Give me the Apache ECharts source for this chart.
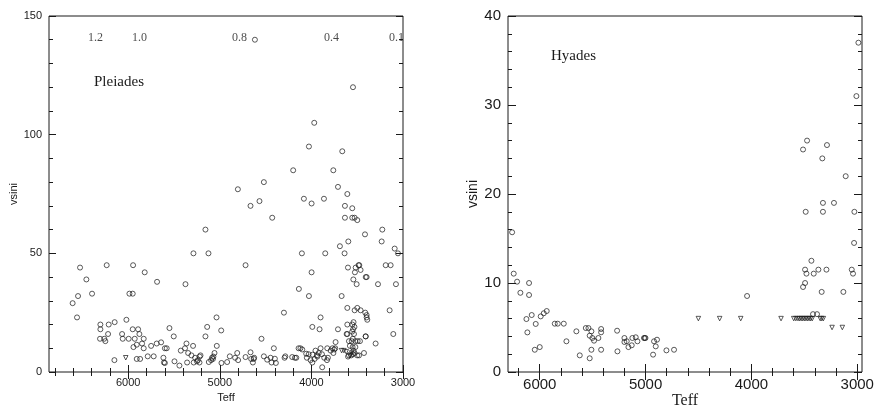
<!DOCTYPE html>
<html>
<head>
<meta charset="utf-8">
<script src="https://cdn.jsdelivr.net/npm/echarts@6/dist/echarts.min.js"></script>
<style>
html,body{margin:0;padding:0;background:#fff;}
#chart{width:874px;height:406px;}
</style>
</head>
<body>
<div id="chart"></div>
<script>
// ---------------- DATA ----------------
// Pleiades: [Teff, vsini] measured values (open circles)
const pleiadesCircles = [
  [4617,140],[3546,120],[3969,105],[4027,95],[3663,93],[4199,85],[3761,85],[4519,80],[3710,78],[4803,77],
  [3608,75],[4567,72],[4082,73],[3863,73],[3998,71],[4665,70],[3634,70],[3554,69],[4428,65],[3634,65],
  [3554,65],[3528,65],[3499,64],[5157,60],[3226,60],[3415,58],[3233,55],[3597,55],[3689,53],[3091,52],
  [5288,50],[5124,50],[4104,50],[3849,50],[3638,50],[3055,50],
  [6526,44],[6235,45],[5947,45],[4719,45],[3601,44],[3477,45],[3189,45],[3135,45],[3485,45],[3517,44],
  [3463,43],[3525,42],[3542,39],[3506,37],[3407,40],[3397,40],[6457,39],[5820,42],[3998,42],[5685,38],
  [5375,37],[3273,37],[3077,37],[6395,33],[5987,33],[5951,33],[6548,32],[4137,35],[4027,32],[3670,32],
  [6607,29],[6559,23],[3608,27],[3499,27],[3463,26],[3528,26],[3412,25],[3397,24],[3397,23],[3390,22],
  [3146,26],[4300,25],[3900,23],[3106,16],[3299,12],[3408,15],[3426,8],
  [6304,20],[6304,18],[6213,20],[6148,21],[6020,22],[6220,16],[6308,14],[6250,13],[6262,14],[6067,16],
  [6060,14],[5995,14],[5951,18],[5892,18],[5878,16],[5929,14],[5831,14],[5907,11.5],[5943,10.5],[5849,12],
  [5831,10],[5750,11],[5689,12],[5641,12.5],[5600,10],[5580,10],[5550,18.5],[5503,15],[5426,9],[5364,12],
  [5292,11],[5380,10],[5346,8],[5310,7],[5270,6],[5240,5],[5211,7],[5250,4.5],[5220,6.5],
  [5157,15],[5138,19],[5036,23],[4985,17.5],[5033,11],[5058,8],[5070,6.5],[5085,6],[5095,5],[5075,5.5],[5120,4.2],
  [6151,5],[5907,5.5],[5870,5.5],[5787,6.6],[5722,6.6],[5616,6],[5610,4],[5600,3.8],[5495,4.5],[5441,2.7],
  [5357,4],[5222,4],[5285,4],[4982,3.8],[4920,4.2],[4891,6.6],[4833,6],[4810,8],[4800,5],[4719,6.3],
  [4665,8.3],[4658,5.5],[4630,5.5],[4625,6],[4639,4],[4545,14],[4519,6.6],[4483,5.2],[4446,6],[4435,4],
  [4410,10],[4399,5.6],[4388,3.8],[4293,6],[4285,6.6],[4210,6.3],[4180,6],[4165,6],[4140,10],[4120,10],
  [4100,9.5],[4057,7.7],[4009,5],[3987,7.3],[3965,5.5],[3990,19],[3911,18],[3940,7],[3920,8],[3900,10],
  [3885,7.5],[3882,2],[3860,6],[3830,5],[3820,6],[3827,10],[3790,9],[3770,10],[3760,8],[3750,9.5],
  [3740,10],[3736,12.6],[3710,18],[3608,16],[3615,16],
  [3608,20],[3553,20],[3540,21],[3530,19],[3545,18],[3555,17],[3535,16],[3548,14],[3590,13],[3560,13],
  [3520,13],[3495,13],[3470,13],[3580,11],[3550,10.5],[3520,10.5],[3540,9],[3530,8],[3545,7.5],[3590,7],
  [3565,7],[3500,7],[3480,7],[3600,6.5],[3407,15],
  [4050,6],[3990,4],[4030,7.5],[3955,9],[3935,6.5]
];
// Pleiades upper limits (open down-triangles)
const pleiadesLimits = [[6027,6],[3670,9],[3645,9],[3580,7],[3620,8.5],[3560,8]];
// Mass scale along the top of the Pleiades panel
const massLabels = ['1.2','1.0','0.8','0.4','0.1'];
const massTeff = [6358,5878,4785,3780,3070];
const massRowVsini = 141;

// Hyades: [Teff, vsini] measured values (open circles)
const hyadesCircles = [
  [6261,15.7],[6246,11.05],[6214,10.15],[6183,8.9],[6101,10.0],[6101,8.65],[6126,5.95],[6117,4.45],[6076,6.4],
  [6038,5.4],[6047,2.5],[6000,2.8],[5991,6.25],[5962,6.6],[5934,6.85],[5858,5.43],[5830,5.43],[5773,5.43],
  [5748,3.45],[5654,4.57],[5622,1.87],[5565,4.94],[5540,4.94],[5528,4.08],[5512,4.57],[5503,3.82],[5487,3.52],
  [5528,1.54],[5512,2.5],[5446,3.82],[5420,4.83],[5420,4.46],[5420,2.5],[5269,4.64],[5266,2.32],[5200,3.82],
  [5200,3.37],[5178,3.45],[5162,2.8],[5131,3.0],[5125,3.82],[5093,3.9],[5077,3.45],[5015,3.82],[5008,3.82],
  [5001,3.82],[4929,1.95],[4920,3.45],[4904,2.88],[4892,3.63],[4803,2.43],[4731,2.5],[4041,8.54],
  [3418,6.5],[3380,6.5],
  [3512,25],[3474,26],[3286,25.5],[3330,24],[3109,22],[3487,18],[3324,19],[3324,18],[3220,19],[3027,18],
  [3008,31],[2989,37],[3030,14.5],[3052,11.5],[3040,11.05],[3493,11.5],[3480,11.05],[3433,12.5],[3411,11.05],
  [3367,11.5],[3291,11.5],[3512,9.55],[3493,10.0],[3336,9.0],[3131,9.0]
];
// Hyades upper limits (open down-triangles)
const hyadesLimits = [
  [4501,6],[4300,6],[4101,6],[3720,6],
  [3600,6],[3580,6],[3560,6],[3545,6],[3530,6],[3515,6],[3500,6],[3485,6],[3470,6],[3455,6],[3440,6],[3425,6],
  [3350,6],[3335,6],[3320,6],
  [3238,5],[3141,5]
];

// Tick values
const leftXMajor = [3000,4000,5000,6000];
const leftXMinor = [3200,3400,3600,3800,4200,4400,4600,4800,5200,5400,5600,5800,6200,6400,6600,6800];
const leftYMajor = [0,50,100,150];
const leftYMinor = [10,20,30,40,60,70,80,90,110,120,130,140];
const rightXMajor = [3000,4000,5000,6000];
const rightXMinor = [3200,3400,3600,3800,4200,4400,4600,4800,5200,5400,5600,5800,6200];
const rightYMajor = [0,10,20,30,40];
const rightYMinor = [2,4,6,8,12,14,16,18,22,24,26,28,32,34,36,38];

// ---------------- CHART ----------------
const INK = '#1a1a1a';
const SANS = '"Liberation Sans", Arial, sans-serif';
const SERIF = '"Liberation Serif", "Times New Roman", serif';

const L = {min: 3000, max: 6865, ymax: 150};
const R = {min: 2955, max: 6300, ymax: 40};

function xAxis(grid, ext, position, ticks, len, labels, fontSize, name, nameFont, nameSize, nameGap, noMove) {
  return {
    type: 'value', gridIndex: grid, position: position, inverse: true,
    min: ext.min, max: ext.max,
    axisLine: {show: false},
    splitLine: {show: false},
    axisTick: {show: true, inside: true, length: len, customValues: ticks, lineStyle: {color: INK, width: 1}},
    axisLabel: labels ? {show: true, customValues: labels, formatter: v => String(v), color: INK, fontSize: fontSize, fontFamily: SANS, margin: 5} : {show: false},
    name: name || '', nameLocation: 'middle', nameGap: nameGap || 0,
    nameMoveOverlap: !noMove,
    nameTextStyle: {color: INK, fontFamily: nameFont, fontSize: nameSize}
  };
}
function yAxis(grid, ymax, position, ticks, len, labels, fontSize, name, nameFont, nameSize, nameGap) {
  return {
    type: 'value', gridIndex: grid, position: position,
    min: 0, max: ymax,
    axisLine: {show: false},
    splitLine: {show: false},
    axisTick: {show: true, inside: true, length: len, customValues: ticks, lineStyle: {color: INK, width: 1}},
    axisLabel: labels ? {show: true, customValues: labels, formatter: v => String(v), color: INK, fontSize: fontSize, fontFamily: SANS, margin: 7} : {show: false},
    name: name || '', nameLocation: 'middle', nameGap: nameGap || 0, nameRotate: 90,
    nameTextStyle: {color: INK, fontFamily: nameFont, fontSize: nameSize}
  };
}

const gridL = {left: 49, top: 16, width: 354, height: 356, containLabel: false, outerBoundsMode: 'none'};
const gridR = {left: 508, top: 16, width: 354, height: 356, containLabel: false, outerBoundsMode: 'none'};

const option = {
  animation: false,
  backgroundColor: '#fff',
  grid: [
    Object.assign({show: true, borderColor: INK, borderWidth: 1, backgroundColor: 'transparent'}, gridL),
    Object.assign({show: false}, gridL),
    Object.assign({show: true, borderColor: INK, borderWidth: 1, backgroundColor: 'transparent'}, gridR),
    Object.assign({show: false}, gridR)
  ],
  xAxis: [
    xAxis(0, L, 'bottom', leftXMajor, 7, leftXMajor, 11, 'Teff', SANS, 11, 17),
    xAxis(0, L, 'top', leftXMajor, 7, null),
    xAxis(1, L, 'bottom', leftXMinor, 4, null),
    xAxis(1, L, 'top', leftXMinor, 4, null),
    xAxis(2, R, 'bottom', rightXMajor, 8, rightXMajor, 15, 'Teff', SERIF, 16, 21, true),
    xAxis(2, R, 'top', rightXMajor, 8, null),
    xAxis(3, R, 'bottom', rightXMinor, 4, null),
    xAxis(3, R, 'top', rightXMinor, 4, null)
  ],
  yAxis: [
    yAxis(0, L.ymax, 'left', leftYMajor, 7, leftYMajor, 11, 'vsini', SANS, 11, 30),
    yAxis(0, L.ymax, 'right', leftYMajor, 7, null),
    yAxis(1, L.ymax, 'left', leftYMinor, 4, null),
    yAxis(1, L.ymax, 'right', leftYMinor, 4, null),
    yAxis(2, R.ymax, 'left', rightYMajor, 8, rightYMajor, 15, 'vsini', SANS, 14, 28),
    yAxis(2, R.ymax, 'right', rightYMajor, 8, null),
    yAxis(3, R.ymax, 'left', rightYMinor, 4, null),
    yAxis(3, R.ymax, 'right', rightYMinor, 4, null)
  ],
  series: [
    {
      type: 'scatter', xAxisIndex: 0, yAxisIndex: 0, data: pleiadesCircles,
      symbol: 'circle', symbolSize: 5, silent: true,
      itemStyle: {color: 'rgba(0,0,0,0)', borderColor: INK, borderWidth: 0.9}
    },
    {
      type: 'scatter', xAxisIndex: 0, yAxisIndex: 0, data: pleiadesLimits,
      symbol: 'triangle', symbolRotate: 180, symbolSize: 4.5, silent: true,
      itemStyle: {color: 'rgba(0,0,0,0)', borderColor: INK, borderWidth: 0.9}
    },
    {
      type: 'scatter', xAxisIndex: 0, yAxisIndex: 0, silent: true,
      data: massTeff.map((t, i) => [t, massRowVsini, massLabels[i]]),
      symbolSize: 0,
      label: {show: true, position: 'inside', formatter: p => p.value[2], color: INK, fontFamily: SERIF, fontSize: 12}
    },
    {
      type: 'scatter', xAxisIndex: 4, yAxisIndex: 4, data: hyadesCircles,
      symbol: 'circle', symbolSize: 5, silent: true,
      itemStyle: {color: 'rgba(0,0,0,0)', borderColor: INK, borderWidth: 0.9}
    },
    {
      type: 'scatter', xAxisIndex: 4, yAxisIndex: 4, data: hyadesLimits,
      symbol: 'triangle', symbolRotate: 180, symbolSize: 4.5, silent: true,
      itemStyle: {color: 'rgba(0,0,0,0)', borderColor: INK, borderWidth: 0.9}
    }
  ],
  graphic: [
    {type: 'text', left: 94, top: 75, style: {text: 'Pleiades', fill: INK, font: '15px ' + SERIF}},
    {type: 'text', left: 551, top: 49, style: {text: 'Hyades', fill: INK, font: '15px ' + SERIF}}
  ]
};

const chart = echarts.init(document.getElementById('chart'), null, {renderer: 'canvas'});
chart.setOption(option);
</script>
</body>
</html>
